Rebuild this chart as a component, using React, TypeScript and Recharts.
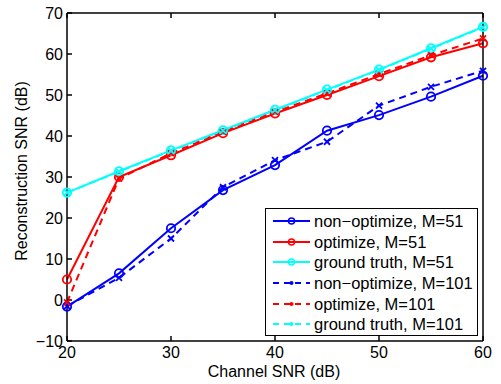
import React from "react";
import { LineChart, Line, XAxis, YAxis, Legend } from "recharts";

const snr = [20, 25, 30, 35, 40, 45, 50, 55, 60];
const nonOpt51 = [-1.6, 6.5, 17.5, 26.8, 32.9, 41.3, 45.1, 49.6, 54.7];
const opt51 = [5, 30, 35.3, 40.7, 45.5, 50.0, 54.6, 59.2, 62.6];
const truth51 = [26.2, 31.4, 36.5, 41.4, 46.4, 51.3, 56.2, 61.4, 66.6];
const nonOpt101 = [-1.5, 5.4, 15, 27.5, 34.1, 38.6, 47.4, 52, 55.9];
const opt101 = [-0.6, 29.6, 35.8, 41, 45.9, 50.4, 55.1, 59.7, 63.8];
const truth101 = [26.2, 31.3, 36.4, 41.3, 46.3, 51.2, 56.1, 61.3, 66.5];

const xTicks = [20, 30, 40, 50, 60];
const yTicks = [-10, 0, 10, 20, 30, 40, 50, 60, 70];

const FONT = "'Liberation Sans', Arial, Helvetica, sans-serif";
const BLUE = "#0000ff";
const RED = "#ff0000";
const CYAN = "#00ffff";

const SERIES = [
  { key: "nonOpt51", name: "non\u2212optimize, M=51", color: BLUE, dashed: false },
  { key: "opt51", name: "optimize, M=51", color: RED, dashed: false },
  { key: "truth51", name: "ground truth, M=51", color: CYAN, dashed: false },
  { key: "nonOpt101", name: "non\u2212optimize, M=101", color: BLUE, dashed: true },
  { key: "opt101", name: "optimize, M=101", color: RED, dashed: true },
  { key: "truth101", name: "ground truth, M=101", color: CYAN, dashed: true },
];

const data = snr.map((x, i) => ({
  x,
  nonOpt51: nonOpt51[i],
  opt51: opt51[i],
  truth51: truth51[i],
  nonOpt101: nonOpt101[i],
  opt101: opt101[i],
  truth101: truth101[i],
}));

const circleDot = (color: string) => (props: any) => {
  const { cx, cy, index } = props;
  return <circle key={index} cx={cx} cy={cy} r={4.2} fill="none" stroke={color} strokeWidth={1.8} />;
};

const crossDot = (color: string) => (props: any) => {
  const { cx, cy, index } = props;
  const s = 3;
  return (
    <g key={index} stroke={color} strokeWidth={1.8}>
      <line x1={cx - s} y1={cy - s} x2={cx + s} y2={cy + s} />
      <line x1={cx - s} y1={cy + s} x2={cx + s} y2={cy - s} />
    </g>
  );
};

// matlab uses a real minus sign on tick labels
const fmtTick = (v: number) => String(v).replace("-", "\u2212");

// MATLAB style legend box, drawn inside the axes
const LegendBox = () => (
  <div
    style={{
      border: "1px solid #000",
      background: "#fff",
      width: 213,
      height: 128,
      boxSizing: "border-box",
      padding: "2px 0 0 0",
      fontFamily: FONT,
      fontSize: 16.5,
      lineHeight: "20px",
      color: "#000",
    }}
  >
    {SERIES.map((s) => (
      <div key={s.key} style={{ display: "flex", alignItems: "center", height: 20.6 }}>
        <svg width={48} height={20} style={{ flex: "none" }}>
          <line
            x1={7}
            y1={10}
            x2={44}
            y2={10}
            stroke={s.color}
            strokeWidth={2}
            strokeDasharray={s.dashed ? "6 5" : undefined}
          />
          {s.dashed ? (
            <circle cx={25.5} cy={10} r={2} fill={s.color} />
          ) : (
            <circle cx={25.5} cy={10} r={3} fill="none" stroke={s.color} strokeWidth={1.5} />
          )}
        </svg>
        <span style={{ whiteSpace: "nowrap" }}>{s.name}</span>
      </div>
    ))}
  </div>
);

const tickStyle = { fill: "#000", fontSize: 16, fontFamily: FONT };

export default function App() {
  return (
    <div style={{ position: "absolute", left: 0, top: 0, background: "#fff" }}>
      <LineChart width={501} height={384} data={data} margin={{ top: 12, right: 17, left: 0, bottom: 0 }}>
        <XAxis
          dataKey="x"
          type="number"
          domain={[20, 60]}
          ticks={xTicks}
          height={43}
          stroke="#000"
          strokeWidth={1.5}
          tickSize={-5}
          tickMargin={11}
          tick={tickStyle}
          label={{
            content: () => (
              <text x={274} y={377} textAnchor="middle" fontSize={16} fontFamily={FONT} fill="#000">
                Channel SNR (dB)
              </text>
            ),
          }}
        />
        <XAxis
          xAxisId="top"
          orientation="top"
          dataKey="x"
          type="number"
          domain={[20, 60]}
          ticks={xTicks}
          height={1}
          stroke="#000"
          strokeWidth={1.5}
          tickSize={-5}
          tick={() => <g />}
        />
        <YAxis
          type="number"
          domain={[-10, 70]}
          ticks={yTicks}
          width={67}
          stroke="#000"
          strokeWidth={1.5}
          tickSize={-5}
          tickMargin={9}
          tick={tickStyle}
          tickFormatter={fmtTick}
          label={{
            content: () => (
              <text
                x={27}
                y={171}
                transform="rotate(-90 27 171)"
                textAnchor="middle"
                fontSize={16}
                fontFamily={FONT}
                fill="#000"
              >
                Reconstruction SNR (dB)
              </text>
            ),
          }}
        />
        <YAxis
          yAxisId="right"
          orientation="right"
          type="number"
          domain={[-10, 70]}
          ticks={yTicks}
          width={1}
          stroke="#000"
          strokeWidth={1.5}
          tickSize={-5}
          tick={() => <g />}
        />
        <Legend
          layout="horizontal"
          verticalAlign="middle"
          align="center"
          content={() => <LegendBox />}
          wrapperStyle={{ position: "absolute", left: 265, top: 208, width: 213 }}
        />
        {SERIES.map((s) => (
          <Line
            key={s.key}
            type="linear"
            dataKey={s.key}
            name={s.name}
            stroke={s.color}
            strokeWidth={2}
            strokeDasharray={s.dashed ? "7 5" : undefined}
            dot={s.dashed ? crossDot(s.color) : circleDot(s.color)}
            activeDot={false}
            isAnimationActive={false}
          />
        ))}
      </LineChart>
    </div>
  );
}
